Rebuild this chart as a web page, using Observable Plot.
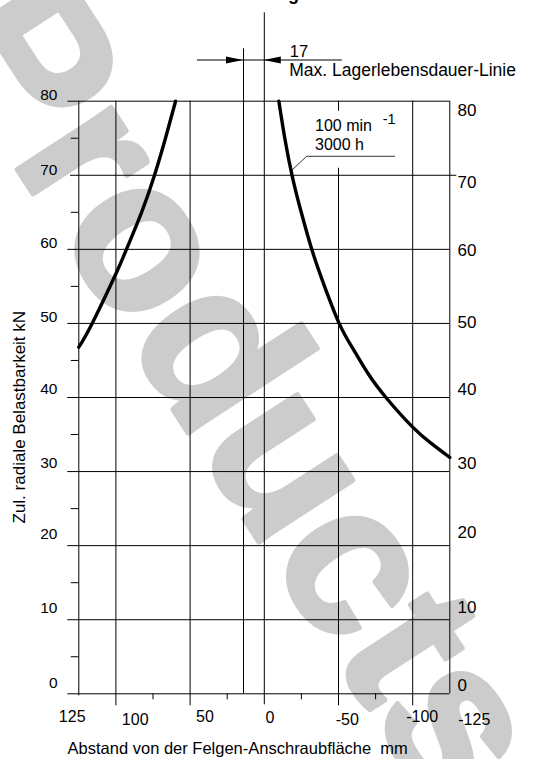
<!DOCTYPE html>
<html>
<head>
<meta charset="utf-8">
<script src="https://cdn.jsdelivr.net/npm/d3@7"></script>
<script src="https://cdn.jsdelivr.net/npm/@observablehq/plot@0.6"></script>
<style>
  html, body { margin: 0; padding: 0; background: #fff; }
  svg { display: block; }
</style>
</head>
<body>
<div id="chart"></div>
<script>
// ---- data ----
const leftCurveX  = [125, 116, 100, 92.9, 82.7, 74, 66.6, 59.8];
const leftCurveY  = [46.8, 50, 56.7, 60, 65, 70, 75, 80];
const rightCurveX = [-9.8, -13.8, -18.8, -24.9, -32.3, -40.6, -50.9, -60, -70, -82.8, -100, -112.5, -125];
const rightCurveY = [80, 75, 69.9, 65, 59.8, 55, 49.8, 46.5, 43.2, 39.8, 36.0, 33.8, 31.9];

const xTicks      = [125, 100, 50, 0, -50, -100, -125];
const xMinorTicks = [75, 25, -25, -75];
const yTicks      = [80, 70, 60, 50, 40, 30, 20, 10, 0];
const yMinorTicks = [75, 65, 55, 45, 35, 25, 15, 5];

const maxLifeLineX    = 14;      // drawn position of the max. bearing life line
const maxLifeDistance = "17";
const maxLifeTitle    = "Max. Lagerlebensdauer-Linie";
const curveSpeed      = "100 min";
const curveSpeedExp   = "-1";
const curveLife       = "3000 h";
const xTitle          = "Abstand von der Felgen-Anschraubfläche\u00a0 mm";
const yTitle          = "Zul. radiale Belastbarkeit kN";
const watermark       = "Products";
const titleFragment   = "g";

// ---- layout (pixels) ----
const W = 533, H = 759;
const mL = 78.3, mR = 83.7, mT = 100.7, mB = 65.7;
const plotW = W - mL - mR, plotH = H - mT - mB;
const font = "'Liberation Sans', Arial, Helvetica, sans-serif";

// label offsets (hand-lettered placement in the drawing)
const leftLabelDy   = [-5.7, -5, -6.7, -6.3, -8.3, -8.7, -12, -12, -10.3];
const rightLabelDy  = [9, 7.5, 1, -1, -8, -8, -13, -12, -8];
const bottomLabelDx = [-6.6, 19.3, 14.9, 5.7, 8.8, 9.5, 24.5];
const bottomLabelDy = [23.4, 26, 23.4, 23.7, 25.7, 23.4, 26];

const leftCurve  = leftCurveX.map((x, i) => ({x, y: leftCurveY[i]}));
const rightCurve = rightCurveX.map((x, i) => ({x, y: rightCurveY[i]}));

const marks = [
  Plot.text([watermark], {text: d => d, frameAnchor: "top-left", dx: -147.2, dy: -63.3, rotate: 57,
    fontSize: 213, fontWeight: "bold", fill: "#cccccc", stroke: "#cccccc", strokeWidth: 5,
    strokeLinejoin: "round", textAnchor: "start", lineAnchor: "bottom"}),
  Plot.text([titleFragment], {text: d => d, frameAnchor: "top-left", dx: 293 - mL, dy: -mT - 0.5,
    fontSize: 18, fontWeight: "bold", textAnchor: "middle", lineAnchor: "bottom"}),

  // horizontal grid + left minor ticks
  Plot.ruleY(yTicks.filter(v => v !== 70), {y: d => d, insetLeft: -11, stroke: "#000"}),
  Plot.ruleY([70], {y: d => d, insetLeft: -8.3, insetRight: -7, stroke: "#000"}),
  Plot.ruleY(yMinorTicks, {y: d => d, insetLeft: -7.5, insetRight: plotW, stroke: "#000"}),

  // vertical grid + bottom ticks
  Plot.ruleX(xTicks.filter(v => Math.abs(v) !== 125 && v !== 0), {x: d => d, insetBottom: -12, stroke: "#000"}),
  Plot.ruleX([0], {x: d => d, insetTop: -88.4, insetBottom: -11, stroke: "#000"}),
  Plot.ruleX([125], {x: d => d, insetBottom: -2, stroke: "#000"}),
  Plot.ruleX([-125], {x: d => d, stroke: "#000"}),
  Plot.ruleX(xMinorTicks, {x: d => d, insetTop: plotH, insetBottom: -6, stroke: "#000"}),
  Plot.ruleX([maxLifeLineX], {x: d => d, insetTop: -52.4, stroke: "#000"}),

  // curves
  Plot.line(leftCurve,  {x: "x", y: "y", curve: "natural", stroke: "#000", strokeWidth: 3.4}),
  Plot.line(rightCurve, {x: "x", y: "y", curve: "natural", stroke: "#000", strokeWidth: 3.4}),

  // axis titles
  Plot.text([yTitle], {text: d => d, frameAnchor: "left", dx: 19 - mL, dy: 19.7, rotate: -90,
    fontSize: 17, textAnchor: "middle", lineAnchor: "middle"}),
  Plot.text([xTitle], {text: d => d, frameAnchor: "bottom", dx: -26.6, dy: 55.2,
    fontSize: 16.5, textAnchor: "middle", lineAnchor: "middle"}),

  // tick labels
  ...yTicks.map((v, i) => Plot.text([v], {y: d => d, text: d => String(d), frameAnchor: "left",
    textAnchor: "end", lineAnchor: "middle", dx: -21.3, dy: leftLabelDy[i], fontSize: 15.5})),
  ...yTicks.map((v, i) => Plot.text([v], {y: d => d, text: d => String(d), frameAnchor: "right",
    textAnchor: "start", lineAnchor: "middle", dx: 7.7, dy: rightLabelDy[i], fontSize: 17})),
  ...xTicks.map((v, i) => Plot.text([v], {x: d => d, text: d => String(d), frameAnchor: "bottom",
    textAnchor: "middle", lineAnchor: "middle", dx: bottomLabelDx[i], dy: bottomLabelDy[i], fontSize: 16}))
];

const chart = Plot.plot({
  width: W, height: H,
  marginLeft: mL, marginRight: mR, marginTop: mT, marginBottom: mB,
  x: {domain: [125, -125], axis: null},
  y: {domain: [0, 80], axis: null},
  style: {fontFamily: font, background: "#fff", color: "#000", overflow: "visible"},
  marks
});

// ---- annotations positioned through the plot's scales ----
const xs = chart.scale("x"), ys = chart.scale("y");
const svg = d3.select(chart);
const g = svg.append("g").attr("font-family", font).attr("fill", "#000").attr("text-anchor", "start");

const xm = xs.apply(maxLifeLineX), x0 = xs.apply(0), dimY = ys.apply(80) - 40.7;
g.append("line").attr("x1", xm - 46).attr("x2", x0 + 78).attr("y1", dimY).attr("y2", dimY)
  .attr("stroke", "#000").attr("stroke-width", 1);
g.append("path").attr("d", `M${xm},${dimY}L${xm - 17},${dimY - 3.6}L${xm - 17},${dimY + 3.6}Z`);
g.append("path").attr("d", `M${x0},${dimY}L${x0 + 17},${dimY - 3.6}L${x0 + 17},${dimY + 3.6}Z`);
g.append("text").attr("x", x0 + 26).attr("y", dimY - 2.7).attr("font-size", 16.5).text(maxLifeDistance);
g.append("text").attr("x", x0 + 25.5).attr("y", dimY + 16).attr("font-size", 17.5).text(maxLifeTitle);

const tx = xs.apply(rightCurveX[2]), ty = ys.apply(70);
g.append("rect").attr("x", tx + 20.3).attr("y", ty - 64).attr("width", 84).attr("height", 57).attr("fill", "#fff");
g.append("path").attr("d", `M${tx},${ty - 4.5}L${tx + 15},${ty - 18.5}L${tx + 103.3},${ty - 18.5}`)
  .attr("fill", "none").attr("stroke", "#000").attr("stroke-width", 0.8);
g.append("text").attr("x", tx + 23.3).attr("y", ty - 44.2).attr("font-size", 16).text(curveSpeed);
g.append("text").attr("x", tx + 91).attr("y", ty - 50.5).attr("font-size", 14.5).text(curveSpeedExp);
g.append("text").attr("x", tx + 23.3).attr("y", ty - 25.2).attr("font-size", 16).text(curveLife);

document.getElementById("chart").appendChild(chart);
</script>
</body>
</html>
